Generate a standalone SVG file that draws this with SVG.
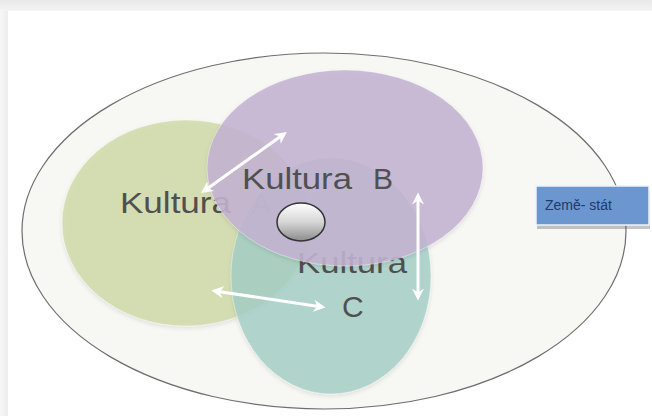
<svg xmlns="http://www.w3.org/2000/svg" width="652" height="416" viewBox="0 0 652 416">
  <defs>
    <style>
      .lbl { font-family: "Liberation Sans", Arial, sans-serif; font-size: 30px; fill: #505050; }
      .arrow { stroke: #ffffff; stroke-width: 3; fill: none; marker-start: url(#head); marker-end: url(#head); }
      .set { stroke-opacity: 0.35; stroke-width: 1; }
    </style>
    <marker id="head" viewBox="0 0 10 10" refX="7" refY="5" markerWidth="4" markerHeight="4" orient="auto-start-reverse" markerUnits="strokeWidth">
      <path d="M0,0 L10,5 L0,10 L3,5 Z" fill="#ffffff"/>
    </marker>
    <linearGradient id="topBand" x1="0" y1="0" x2="0" y2="1">
      <stop offset="0" stop-color="#e9e9e9"/>
      <stop offset="1" stop-color="#f4f4f4"/>
    </linearGradient>
    <linearGradient id="leftBand" x1="0" y1="0" x2="1" y2="0">
      <stop offset="0" stop-color="#f7f7f7"/>
      <stop offset="1" stop-color="#ededed"/>
    </linearGradient>
    <linearGradient id="core" x1="0" y1="0" x2="0" y2="1">
      <stop offset="0" stop-color="#ffffff"/>
      <stop offset="0.5" stop-color="#d6d6d6"/>
      <stop offset="1" stop-color="#8c8c8c"/>
    </linearGradient>
    <filter id="soft" x="-10%" y="-10%" width="120%" height="125%">
      <feDropShadow dx="0" dy="2" stdDeviation="2" flood-color="#000000" flood-opacity="0.12"/>
    </filter>
  </defs>

  <!-- page background and frame bands -->
  <rect x="0" y="0" width="652" height="416" fill="#ffffff"/>
  <rect x="0" y="0" width="652" height="11" fill="url(#topBand)"/>
  <rect x="0" y="11" width="8" height="405" fill="url(#leftBand)"/>

  <!-- outer state ellipse -->
  <g id="stat">
    <ellipse cx="324" cy="231" rx="302" ry="178" fill="#f7f7f4" stroke="#6e6e6e" stroke-width="1.2"/>
  </g>

  <!-- culture A -->
  <g id="kultura-a">
    <ellipse class="set" cx="186" cy="223" rx="124" ry="103" fill="#ced9a5" fill-opacity="0.8" stroke="#ffffff" filter="url(#soft)"/>
    <text class="lbl" x="120" y="213" textLength="111" lengthAdjust="spacingAndGlyphs">Kultura</text>
    <text class="lbl" x="251" y="214">A</text>
  </g>

  <!-- culture C -->
  <g id="kultura-c">
    <ellipse class="set" cx="331" cy="276" rx="100" ry="118" fill="#a2cec6" fill-opacity="0.8" stroke="#ffffff" filter="url(#soft)"/>
    <text class="lbl" x="297" y="273" textLength="110" lengthAdjust="spacingAndGlyphs">Kultura</text>
    <text class="lbl" x="342" y="317">C</text>
  </g>

  <!-- culture B -->
  <g id="kultura-b">
    <ellipse class="set" cx="345" cy="168" rx="138" ry="98" fill="#c4b3d1" fill-opacity="0.88" stroke="#ffffff" filter="url(#soft)"/>
    <text class="lbl" x="242" y="189" textLength="110" lengthAdjust="spacingAndGlyphs">Kultura</text>
    <text class="lbl" x="373" y="189">B</text>
  </g>

  <!-- shared core -->
  <g id="jadro">
    <ellipse cx="301" cy="222" rx="24" ry="19" fill="url(#core)" stroke="#333333" stroke-width="1.5"/>
  </g>

  <!-- interaction arrows -->
  <g id="connectors">
    <line class="arrow" x1="204" y1="191" x2="284" y2="134"/>
    <line class="arrow" x1="215" y1="291" x2="322" y2="307"/>
    <line class="arrow" x1="418" y1="196" x2="418" y2="297"/>
  </g>

  <!-- label box -->
  <g id="zeme-stat">
    <rect x="537" y="191" width="113" height="38" fill="#5a5a5a" opacity="0.35"/>
    <rect x="536" y="186" width="113" height="39" fill="#6b96cf" stroke="#eef2f8" stroke-width="1.5"/>
    <text x="545" y="210" font-family="Liberation Sans, Arial, sans-serif" font-size="14" fill="#1f3a6b">Země- stát</text>
  </g>
</svg>
